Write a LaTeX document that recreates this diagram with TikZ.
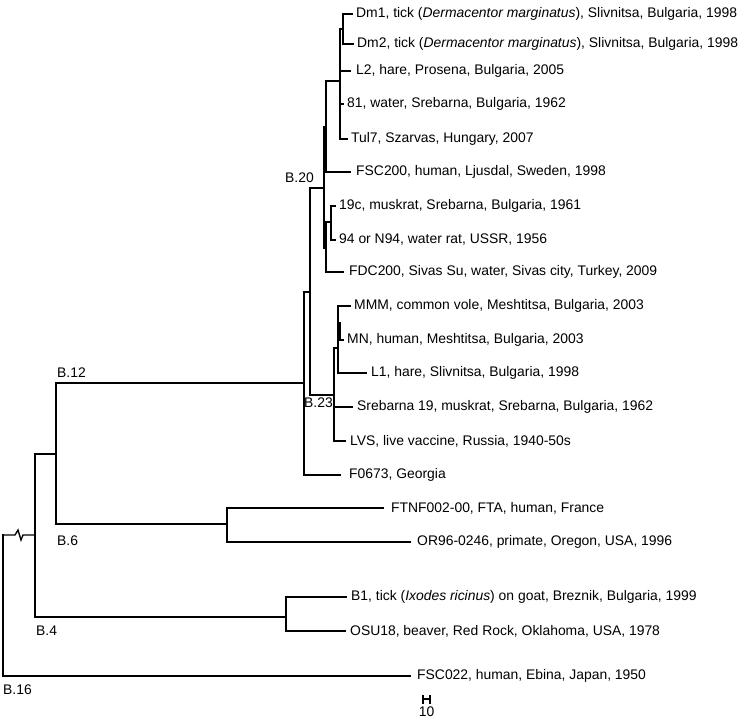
\documentclass[tikz,border=0pt]{standalone}
\usepackage{fontspec}
\setmainfont{Liberation Sans}
\usetikzlibrary{positioning}
\newcommand{\species}[1]{\textit{#1}}

\begin{document}
\begin{tikzpicture}[
    x=1pt, y=-1pt,
    %% -- Branch style ------------------------------------------------------
    %%
    %%   Rectangular branches: parent |- child
    %%     \draw[branch] (nB4) |- (nB6);
    branch/.style={line width=1.35pt, line cap=rect},
    %% -- Tip label style ---------------------------------------------------
    %%
    %%   \node[taxon, right=4pt of tDmA] {...};
    taxon/.style={font=\fontsize{13.9}{16}\selectfont, inner sep=0pt, anchor=west},
    %% -- Clade label style (B.xx) ------------------------------------------
    clade/.style={font=\fontsize{13.9}{16}\selectfont, inner sep=0pt},
]
\useasboundingbox (0,0) rectangle (740,722);

%% -- Internal nodes -------------------------------------------------------

\coordinate (nRoot) at (3,535);
\coordinate (nB4)   at (35,535);
\coordinate (nB6)   at (56,454);
\coordinate (nFT)   at (227,524);
\coordinate (nBO)   at (286,617);
\coordinate (nB12)  at (304,383);
\coordinate (nTop)  at (310,292);
\coordinate (nB20)  at (324,188);
\coordinate (nQa)   at (326,127);
\coordinate (nQb)   at (326,248);
\coordinate (nA)    at (340,81);
\coordinate (nDm)   at (343,29);
\coordinate (nMr)   at (331,222);
\coordinate (nB23)  at (334,395);
\coordinate (nMa)   at (338,348);
\coordinate (nMb)   at (340,323);

%% -- Tips -----------------------------------------------------------------

\coordinate (tDmA)   at (352,14);
\coordinate (tDmB)   at (353,44);
\coordinate (tLB)    at (350,71);
\coordinate (tW81)   at (343,104);
\coordinate (tTul)   at (347,139);
\coordinate (tFSCa)  at (350,172);
\coordinate (tMusk)  at (335,206);
\coordinate (tN94)   at (335,240);
\coordinate (tFDC)   at (343,272);
\coordinate (tMMM)   at (350,306);
\coordinate (tMN)    at (343,340);
\coordinate (tLA)    at (366,373);
\coordinate (tSreb)  at (352,407);
\coordinate (tLVS)   at (345,441);
\coordinate (tGeo)   at (340,475);
\coordinate (tFTNF)  at (383,508);
\coordinate (tOR)    at (410,542);
\coordinate (tBone)  at (346,597);
\coordinate (tOSU)   at (345,631);
\coordinate (tFSCb)  at (410,676);

%% -- Branches -------------------------------------------------------------

% root -- broken branch to B.4
\draw[branch] (nRoot) -- ++(12,0) -- ++(3,-5) -- ++(3,10) -- ++(2,-5) -- (nB4);
\draw[branch] (nRoot) |- (tFSCb);

\draw[branch] (nB4) |- (nB6);
\draw[branch] (nB4) |- (nBO);
\draw[branch] (nBO) |- (tBone);
\draw[branch] (nBO) |- (tOSU);

\draw[branch] (nB6) |- (nB12);
\draw[branch] (nB6) |- (nFT);
\draw[branch] (nFT) |- (tFTNF);
\draw[branch] (nFT) |- (tOR);

\draw[branch] (nB12) |- (nTop);
\draw[branch] (nB12) |- (tGeo);

\draw[branch] (nTop) |- (nB20);
\draw[branch] (nTop) |- (nB23);

% B.20
\draw[branch] (nB20) |- (nQa);
\draw[branch] (nB20) |- (nQb);
\draw[branch] (nQa) |- (nA);
\draw[branch] (nQa) |- (tFSCa);
\draw[branch] (nA) |- (nDm);
\draw[branch] (nA) |- (tLB);
\draw[branch] (nA) |- (tW81);
\draw[branch] (nA) |- (tTul);
\draw[branch] (nDm) |- (tDmA);
\draw[branch] (nDm) |- (tDmB);
\draw[branch] (nQb) |- (nMr);
\draw[branch] (nQb) |- (tFDC);
\draw[branch] (nMr) |- (tMusk);
\draw[branch] (nMr) |- (tN94);

% B.23
\draw[branch] (nB23) |- (nMa);
\draw[branch] (nB23) |- (tSreb);
\draw[branch] (nB23) |- (tLVS);
\draw[branch] (nMa) |- (tMMM);
\draw[branch] (nMa) |- (nMb);
\draw[branch] (nMa) |- (tLA);
\draw[branch] (nMb) |- (tMN);

%% -- Tip labels -----------------------------------------------------------

\node[taxon, right=4pt of tDmA]  (lDmA)  {Dm1, tick (\species{Dermacentor marginatus}), Slivnitsa, Bulgaria, 1998};
\node[taxon, right=4pt of tDmB]  (lDmB)  {Dm2, tick (\species{Dermacentor marginatus}), Slivnitsa, Bulgaria, 1998};
\node[taxon, right=6pt of tLB]   (lLB)   {L2, hare, Prosena, Bulgaria, 2005};
\node[taxon, right=4pt of tW81]  (lW81)  {81, water, Srebarna, Bulgaria, 1962};
\node[taxon, right=4pt of tTul]  (lTul)  {Tul7, Szarvas, Hungary, 2007};
\node[taxon, right=6pt of tFSCa] (lFSCa) {FSC200, human, Ljusdal, Sweden, 1998};
\node[taxon, right=4pt of tMusk] (lMusk) {19c, muskrat, Srebarna, Bulgaria, 1961};
\node[taxon, right=4pt of tN94]  (lN94)  {94 or N94, water rat, USSR, 1956};
\node[taxon, right=6pt of tFDC]  (lFDC)  {FDC200, Sivas Su, water, Sivas city, Turkey, 2009};
\node[taxon, right=4pt of tMMM]  (lMMM)  {MMM, common vole, Meshtitsa, Bulgaria, 2003};
\node[taxon, right=4pt of tMN]   (lMN)   {MN, human, Meshtitsa, Bulgaria, 2003};
\node[taxon, right=5pt of tLA]   (lLA)   {L1, hare, Slivnitsa, Bulgaria, 1998};
\node[taxon, right=5pt of tSreb] (lSreb) {Srebarna 19, muskrat, Srebarna, Bulgaria, 1962};
\node[taxon, right=5pt of tLVS]  (lLVS)  {LVS, live vaccine, Russia, 1940-50s};
\node[taxon, right=9pt of tGeo]  (lGeo)  {F0673, Georgia};
\node[taxon, right=8pt of tFTNF] (lFTNF) {FTNF002-00, FTA, human, France};
\node[taxon, right=7pt of tOR]   (lOR)   {OR96-0246, primate, Oregon, USA, 1996};
\node[taxon, right=5pt of tBone] (lBone) {B1, tick (\species{Ixodes ricinus}) on goat, Breznik, Bulgaria, 1999};
\node[taxon, right=5pt of tOSU]  (lOSU)  {OSU18, beaver, Red Rock, Oklahoma, USA, 1978};
\node[taxon, right=7pt of tFSCb] (lFSCb) {FSC022, human, Ebina, Japan, 1950};

%% -- Clade labels ---------------------------------------------------------

\node[clade, anchor=south east] (cB20) at (314,183) {B.20};
\node[clade, anchor=north west] (cB23) at (304,398) {B.23};
\node[clade, anchor=south west] (cB12) at (57,378)  {B.12};
\node[clade, anchor=north west] (cB6)  at (57,536)  {B.6};
\node[clade, anchor=north west] (cB4)  at (36,626)  {B.4};
\node[clade, anchor=north west] (cB16) at (3,685)   {B.16};

%% -- Scale bar ------------------------------------------------------------

\coordinate (sbL) at (423,699);
\coordinate (sbR) at (430,699);
\coordinate (sbM) at (426.5,699);
\draw[branch, line cap=butt] (sbL) -- (sbR);
\draw[branch, line cap=butt] ([yshift=-4.5pt]sbL) -- ([yshift=4.5pt]sbL);
\draw[branch, line cap=butt] ([yshift=-4.5pt]sbR) -- ([yshift=4.5pt]sbR);
\node[clade, below=8pt of sbM] (sbText) {10};

\end{tikzpicture}
\end{document}
